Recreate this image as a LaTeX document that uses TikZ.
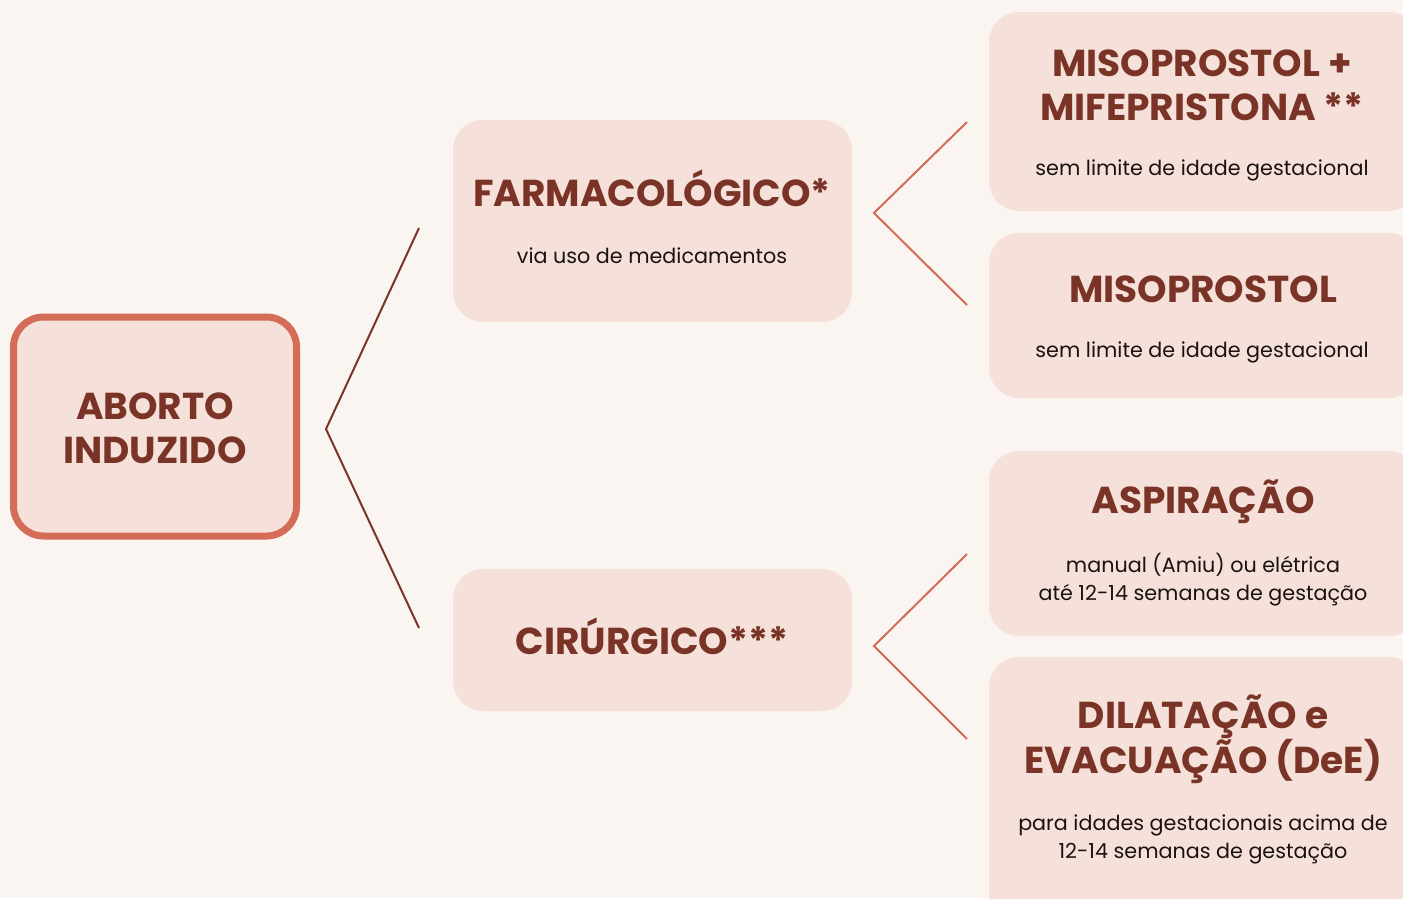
\documentclass[tikz,border=0pt]{standalone}
\usepackage{fontspec}
\setmainfont{Poppins}
\definecolor{bg}{HTML}{FBF5F1}
\definecolor{boxfill}{HTML}{F5E1D9}
\definecolor{accent}{HTML}{D46C57}
\definecolor{dark}{HTML}{7A3427}
\definecolor{txt}{HTML}{1A1212}
\tikzset{
  card/.style={fill=boxfill, draw=none, rounded corners=30pt, inner sep=0pt},
  titletext/.style={text=dark, align=center, inner sep=0pt, font=\fontsize{37.5}{44}\selectfont\bfseries},
  subtext/.style={text=txt, align=center, inner sep=0pt, font=\fontsize{20.7}{28}\selectfont},
  darkline/.style={draw=dark, line width=2pt},
  accline/.style={draw=accent, line width=2pt},
}
\begin{document}
\begin{tikzpicture}[x=1pt,y=-1pt]
\useasboundingbox[fill=bg] (0,0) rectangle (1403,898);
\clip (0,0) rectangle (1403,898);
% boxes
\node[card, draw=accent, line width=7pt, minimum width=283pt, minimum height=219pt] (ab) at (155,426.5) {};
\node[card, minimum width=399pt, minimum height=202pt] (farm) at (652.5,221) {};
\node[card, minimum width=399pt, minimum height=142pt] (cir) at (652.5,640) {};
\node[card, minimum width=430pt, minimum height=199pt] (mm) at (1204,111.5) {};
\node[card, minimum width=430pt, minimum height=165pt] (mi) at (1204,315.5) {};
\node[card, minimum width=430pt, minimum height=185pt] (as) at (1204,543.5) {};
\node[card, minimum width=430pt, minimum height=270pt] (de) at (1204,792) {};
% texts
\node[titletext] (abt) at (155,428) {ABORTO\\INDUZIDO};
\node[titletext] (farmt) at (652,188) {FARMACOLÓGICO*};
\node[subtext] (farms) at (652,256) {via uso de medicamentos};
\node[titletext] (cirt) at (652,636) {CIRÚRGICO***};
\node[titletext] (mmt) at (1202,85) {MISOPROSTOL +\\MIFEPRISTONA **};
\node[subtext] (mms) at (1202,170) {sem limite de idade gestacional};
\node[titletext] (mit) at (1203,289) {MISOPROSTOL};
\node[subtext] (mis) at (1202,352) {sem limite de idade gestacional};
\node[titletext] (ast) at (1203,502) {ASPIRAÇÃO};
\node[subtext] (ass) at (1203,580) {manual (Amiu) ou elétrica\\até 12-14 semanas de gestação};
\node[titletext] (det) at (1203,739.5) {DILATAÇÃO e\\EVACUAÇÃO (DeE)};
\node[subtext] (des) at (1203,839) {para idades gestacionais acima de\\12-14 semanas de gestação};
% connectors
\coordinate (l1) at (419,228);
\coordinate (l0) at (326,429);
\coordinate (l2) at (419,628);
\draw[darkline] (l1) -- (l0) -- (l2);
\coordinate (r1a) at (967,122);
\coordinate (r10) at (874,213);
\coordinate (r1b) at (967,305);
\draw[accline] (r1a) -- (r10) -- (r1b);
\coordinate (r2a) at (967,554);
\coordinate (r20) at (874,646);
\coordinate (r2b) at (967,739);
\draw[accline] (r2a) -- (r20) -- (r2b);
\end{tikzpicture}
\end{document}
